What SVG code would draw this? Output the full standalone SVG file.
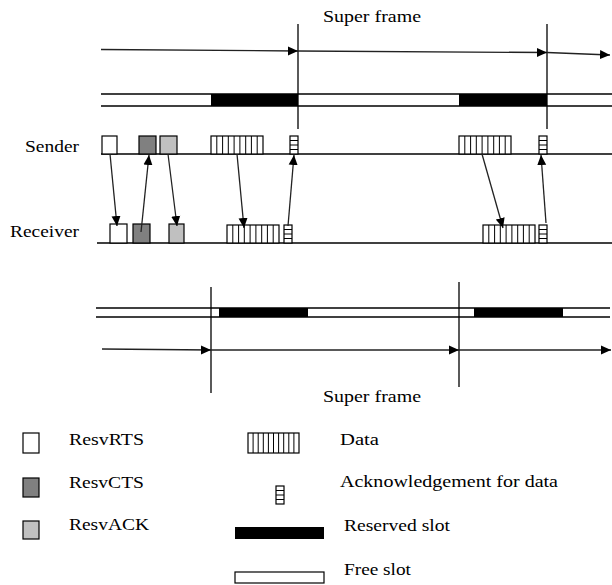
<svg xmlns="http://www.w3.org/2000/svg" width="612" height="585" viewBox="0 0 612 585">
<defs>
<style>
.ln{stroke:#000;stroke-width:1.3;fill:none}
.bx{stroke:#000;stroke-width:1.2}
.st{stroke:#000;stroke-width:1}
.tx{font-family:"Liberation Serif","Times New Roman",serif;font-size:17px;fill:#000}
.ar{stroke:#222;stroke-width:1.3;fill:none;marker-end:url(#ah)}
</style>
<marker id="ah" viewBox="0 0 10 10" refX="10" refY="5" markerWidth="10" markerHeight="10" markerUnits="userSpaceOnUse" orient="auto">
<path d="M0,0.5 L10,5 L0,9.5 z" fill="#000"/>
</marker>
<g id="data">
<rect x="0" y="0" width="52" height="18" fill="#fff" class="bx"/>
<path class="st" d="M5.8,0V18M11.6,0V18M17.3,0V18M23.1,0V18M28.9,0V18M34.7,0V18M40.4,0V18M46.2,0V18"/>
</g>
<g id="ackd">
<rect x="0" y="0" width="8" height="18" fill="#fff" class="bx"/>
<path class="st" d="M0,4.5H8M0,9H8M0,13.5H8"/>
</g>
</defs>
<rect width="612" height="585" fill="#fff"/>

<!-- top super frame timeline -->
<g id="top-frame">
<line class="ln" x1="298" y1="24" x2="298" y2="129"/>
<line class="ln" x1="547" y1="24" x2="547" y2="129"/>
<line class="ln" x1="101" y1="94" x2="612" y2="94"/>
<line class="ln" x1="101" y1="106" x2="612" y2="106"/>
<rect x="211" y="94" width="87" height="12" fill="#000"/>
<rect x="459" y="94" width="88" height="12" fill="#000"/>
<text class="tx" x="323" y="22" textLength="98" lengthAdjust="spacingAndGlyphs">Super frame</text>
</g>

<!-- sender -->
<g id="sender">
<text class="tx" x="25" y="152" textLength="54" lengthAdjust="spacingAndGlyphs">Sender</text>
<line class="ln" x1="101" y1="154" x2="612" y2="154"/>
<rect class="bx" x="102" y="136" width="15" height="18" fill="#fff"/>
<rect class="bx" x="139" y="136" width="17" height="18" fill="#808080"/>
<rect class="bx" x="160" y="136" width="17" height="18" fill="#c0c0c0"/>
<use href="#data" x="211" y="136"/>
<use href="#ackd" x="290" y="136"/>
<use href="#data" x="459" y="136"/>
<use href="#ackd" x="539" y="136"/>
</g>

<!-- receiver -->
<g id="receiver">
<text class="tx" x="10" y="237" textLength="69" lengthAdjust="spacingAndGlyphs">Receiver</text>
<line class="ln" x1="97" y1="243" x2="612" y2="243"/>
<rect class="bx" x="110" y="224" width="17" height="19" fill="#fff"/>
<rect class="bx" x="133" y="224" width="17" height="19" fill="#808080"/>
<rect class="bx" x="169" y="224" width="15" height="19" fill="#c0c0c0"/>
<use href="#data" x="227" y="225"/>
<use href="#ackd" x="284" y="225"/>
<use href="#data" x="483" y="225"/>
<use href="#ackd" x="539" y="225"/>
</g>

<!-- bottom super frame timeline -->
<g id="bottom-frame">
<line class="ln" x1="211" y1="287" x2="211" y2="393"/>
<line class="ln" x1="459" y1="282" x2="459" y2="387"/>
<line class="ln" x1="96" y1="308" x2="610" y2="308"/>
<line class="ln" x1="96" y1="317" x2="610" y2="317"/>
<rect x="219" y="308" width="89" height="9" fill="#000"/>
<rect x="474" y="308" width="89" height="9" fill="#000"/>
<text class="tx" x="323" y="402" textLength="98" lengthAdjust="spacingAndGlyphs">Super frame</text>
</g>

<!-- connectors -->
<g id="connectors">
<line class="ar" x1="101" y1="49.5" x2="298" y2="51"/>
<line class="ar" x1="298" y1="51" x2="547" y2="52.5"/>
<line class="ar" x1="547" y1="52.5" x2="610" y2="55"/>
<line class="ar" x1="102" y1="349" x2="211" y2="350"/>
<line class="ar" x1="211" y1="350" x2="459" y2="350"/>
<line class="ar" x1="459" y1="350" x2="611" y2="350"/>
<line class="ar" x1="110" y1="154" x2="117" y2="226"/>
<line class="ar" x1="141" y1="232" x2="149" y2="155"/>
<line class="ar" x1="168" y1="154" x2="177" y2="226"/>
<line class="ar" x1="237" y1="154" x2="244" y2="228"/>
<line class="ar" x1="288" y1="226" x2="294" y2="155"/>
<line class="ar" x1="482" y1="154" x2="503" y2="228"/>
<line class="ar" x1="546" y1="223" x2="541" y2="155"/>
</g>

<!-- legend -->
<g id="legend-rts">
<rect class="bx" x="23" y="433" width="16" height="20" fill="#fff"/>
<text class="tx" x="69" y="445" textLength="75" lengthAdjust="spacingAndGlyphs">ResvRTS</text>
</g>
<g id="legend-cts">
<rect class="bx" x="23" y="478" width="16" height="19" fill="#808080"/>
<text class="tx" x="69" y="488" textLength="75" lengthAdjust="spacingAndGlyphs">ResvCTS</text>
</g>
<g id="legend-ack">
<rect class="bx" x="23" y="521" width="16" height="18" fill="#c0c0c0"/>
<text class="tx" x="69" y="530" textLength="80" lengthAdjust="spacingAndGlyphs">ResvACK</text>
</g>
<g id="legend-data">
<rect x="248" y="433" width="51" height="20" fill="#fff" class="bx"/>
<path class="st" d="M253.1,433V453M258.2,433V453M263.3,433V453M268.4,433V453M273.5,433V453M278.6,433V453M283.7,433V453M288.8,433V453M293.9,433V453"/>
<text class="tx" x="340" y="445" textLength="39" lengthAdjust="spacingAndGlyphs">Data</text>
</g>
<g id="legend-ackdata">
<rect x="276" y="486" width="8" height="18" fill="#fff" class="bx"/>
<path class="st" d="M276,490.5H284M276,495H284M276,499.5H284"/>
<text class="tx" x="340" y="487" textLength="218" lengthAdjust="spacingAndGlyphs">Acknowledgement for data</text>
</g>
<g id="legend-reserved">
<rect x="235" y="527" width="89" height="12" fill="#000"/>
<text class="tx" x="344" y="531" textLength="106" lengthAdjust="spacingAndGlyphs">Reserved slot</text>
</g>
<g id="legend-free">
<rect class="bx" x="235" y="572" width="89" height="11" fill="#fff"/>
<text class="tx" x="344" y="575" textLength="67" lengthAdjust="spacingAndGlyphs">Free slot</text>
</g>
</svg>
